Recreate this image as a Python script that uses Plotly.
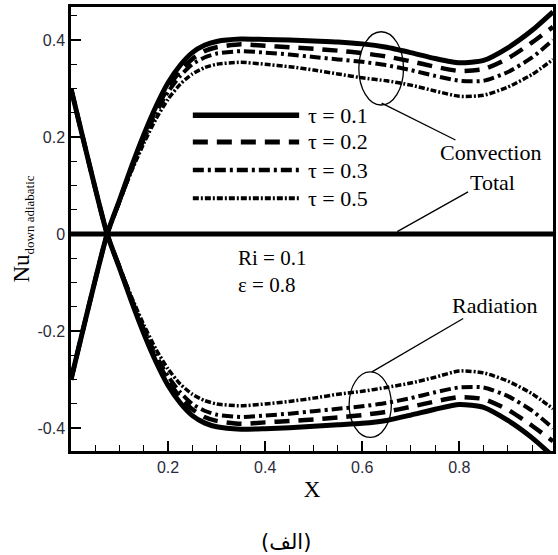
import plotly.graph_objects as go

# ---------------- data ----------------
x = [0.0, 0.0745, 0.1, 0.125, 0.15, 0.175, 0.2, 0.225, 0.25, 0.275, 0.3,
     0.35, 0.4, 0.45, 0.5, 0.55, 0.6, 0.65, 0.7, 0.75, 0.8, 0.85, 0.9, 0.95, 0.993]

conv_t01 = [-0.30, 0.0, 0.070, 0.140, 0.205, 0.263, 0.312, 0.348, 0.374, 0.389, 0.397,
            0.402, 0.401, 0.400, 0.398, 0.396, 0.392, 0.385, 0.374, 0.362, 0.353, 0.358, 0.384, 0.420, 0.458]
conv_t02 = [-0.30, 0.0, 0.069, 0.137, 0.200, 0.256, 0.302, 0.337, 0.361, 0.377, 0.385,
            0.391, 0.388, 0.385, 0.382, 0.378, 0.373, 0.366, 0.356, 0.345, 0.336, 0.340, 0.362, 0.395, 0.427]
conv_t03 = [-0.30, 0.0, 0.068, 0.134, 0.195, 0.249, 0.293, 0.326, 0.350, 0.364, 0.372,
            0.377, 0.374, 0.370, 0.365, 0.360, 0.355, 0.348, 0.338, 0.326, 0.316, 0.316, 0.334, 0.364, 0.400]
conv_t05 = [-0.30, 0.0, 0.067, 0.130, 0.187, 0.237, 0.278, 0.309, 0.330, 0.343, 0.350,
            0.354, 0.350, 0.345, 0.338, 0.330, 0.322, 0.316, 0.307, 0.295, 0.284, 0.286, 0.303, 0.329, 0.360]

rad_t01 = [0.30, 0.0, -0.070, -0.140, -0.205, -0.263, -0.312, -0.348, -0.374, -0.389, -0.397,
           -0.402, -0.401, -0.399, -0.396, -0.393, -0.390, -0.384, -0.373, -0.361, -0.351, -0.357, -0.384, -0.420, -0.458]
rad_t02 = [0.30, 0.0, -0.069, -0.137, -0.200, -0.256, -0.302, -0.337, -0.361, -0.377, -0.385,
           -0.391, -0.388, -0.385, -0.382, -0.378, -0.373, -0.366, -0.356, -0.345, -0.336, -0.340, -0.362, -0.395, -0.427]
rad_t03 = [0.30, 0.0, -0.068, -0.134, -0.195, -0.249, -0.293, -0.326, -0.350, -0.364, -0.372,
           -0.377, -0.374, -0.370, -0.365, -0.360, -0.355, -0.348, -0.338, -0.326, -0.316, -0.316, -0.334, -0.364, -0.400]
rad_t05 = [0.30, 0.0, -0.067, -0.130, -0.187, -0.237, -0.278, -0.309, -0.330, -0.343, -0.350,
           -0.354, -0.350, -0.345, -0.338, -0.330, -0.324, -0.316, -0.307, -0.295, -0.282, -0.286, -0.303, -0.329, -0.360]

total = [0.0] * len(x)

tau_labels = ["τ = 0.1", "τ = 0.2", "τ = 0.3", "τ = 0.5"]
x_tickvals = [0.2, 0.4, 0.6, 0.8]
x_ticktext = ["0.2", "0.4", "0.6", "0.8"]
y_tickvals = [-0.4, -0.2, 0.0, 0.2, 0.4]
y_ticktext = ["-0.4", "-0.2", "0", "0.2", "0.4"]
x_minor = [0.05, 0.1, 0.15, 0.25, 0.3, 0.35, 0.45, 0.5, 0.55, 0.65, 0.7, 0.75, 0.85, 0.9, 0.95]
y_minor = [-0.35, -0.3, -0.25, -0.15, -0.1, -0.05, 0.05, 0.1, 0.15, 0.25, 0.3, 0.35, 0.45]

# ---------------- styles ----------------
styles = [
    dict(dash="solid", width=5),
    dict(dash="15px,9px", width=4.5),
    dict(dash="11px,4px,3px,4px", width=4),
    dict(dash="6px,2px,2px,2px", width=3.5),
]
SERIF = "Liberation Serif"

fig = go.Figure()
conv = [conv_t01, conv_t02, conv_t03, conv_t05]
rad = [rad_t01, rad_t02, rad_t03, rad_t05]
for i in range(4):
    st = styles[i]
    fig.add_trace(go.Scatter(x=x, y=conv[i], mode="lines", name=tau_labels[i],
                             line=dict(color="black", width=st["width"], dash=st["dash"],
                                       shape="spline", smoothing=0.6),
                             showlegend=False))
    fig.add_trace(go.Scatter(x=x, y=rad[i], mode="lines", name=tau_labels[i],
                             line=dict(color="black", width=st["width"], dash=st["dash"],
                                       shape="spline", smoothing=0.6),
                             showlegend=False))
fig.add_trace(go.Scatter(x=x, y=total, mode="lines", name="Total",
                         line=dict(color="black", width=5), showlegend=False))

shapes = []
leg_y = [0.245, 0.190, 0.132, 0.074]
annotations = []
for i in range(4):
    st = styles[i]
    shapes.append(dict(type="line", xref="x", yref="y", x0=0.251, x1=0.470, y0=leg_y[i], y1=leg_y[i],
                       line=dict(color="black", width=st["width"] + 0.5, dash=st["dash"])))
    annotations.append(dict(x=0.487, y=leg_y[i], xref="x", yref="y", text=tau_labels[i],
                            showarrow=False, xanchor="left", yanchor="middle", borderpad=0,
                            font=dict(family=SERIF, size=22, color="black")))

shapes.append(dict(type="circle", xref="x", yref="y", x0=0.593, x1=0.685, y0=0.266, y1=0.417,
                   line=dict(color="black", width=1.3)))
shapes.append(dict(type="line", xref="x", yref="y", x0=0.640, y0=0.270, x1=0.792, y1=0.194,
                   line=dict(color="black", width=1.3)))
shapes.append(dict(type="line", xref="x", yref="y", x0=0.672, y0=0.005, x1=0.818, y1=0.087,
                   line=dict(color="black", width=1.3)))
shapes.append(dict(type="circle", xref="x", yref="y", x0=0.573, x1=0.660, y0=-0.419, y1=-0.284,
                   line=dict(color="black", width=1.3)))
shapes.append(dict(type="line", xref="x", yref="y", x0=0.620, y0=-0.284, x1=0.808, y1=-0.174,
                   line=dict(color="black", width=1.3)))

def txt(xv, yv, t, anchor="center", size=22):
    return dict(x=xv, y=yv, xref="x", yref="y", text=t, showarrow=False, xanchor=anchor,
                yanchor="middle", borderpad=0, font=dict(family=SERIF, size=size, color="black"))

annotations += [
    txt(0.865, 0.169, "Convection"),
    txt(0.869, 0.107, "Total"),
    txt(0.873, -0.148, "Radiation"),
    txt(0.341, -0.050, "Ri = 0.1", "left", 21),
    txt(0.341, -0.105, "ε = 0.8", "left", 21),
    dict(x=(287 - 71) / 485, y=(451 - 542) / 444, xref="paper", yref="paper", text="(الف)",
         showarrow=False, xanchor="center", yanchor="middle",
         font=dict(family="DejaVu Sans", size=21, color="black")),
]

axis_common = dict(showline=True, linewidth=2.5, linecolor="black", mirror=True,
                   ticks="inside", ticklen=10, tickwidth=1.5, tickcolor="black",
                   showgrid=False, zeroline=False,
                   tickfont=dict(family="Liberation Sans", size=16, color="#2a2a3a"))

fig.update_layout(
    width=558, height=555,
    margin=dict(l=71, r=2, t=7, b=104),
    paper_bgcolor="white", plot_bgcolor="white",
    shapes=shapes, annotations=annotations,
    xaxis=dict(range=[0, 0.993], tickmode="array", tickvals=x_tickvals, ticktext=x_ticktext,
               minor=dict(tickmode="array", tickvals=x_minor, ticks="inside", ticklen=6,
                          tickwidth=1.2, tickcolor="black"),
               title=dict(text="X", font=dict(family=SERIF, size=23, color="black"), standoff=6),
               **axis_common),
    yaxis=dict(range=[-0.447, 0.468], tickmode="array", tickvals=y_tickvals, ticktext=y_ticktext,
               minor=dict(tickmode="array", tickvals=y_minor, ticks="inside", ticklen=6,
                          tickwidth=1.2, tickcolor="black"),
               title=dict(text="Nu<sub><span style='font-size:13px'>down adiabatic</span></sub>",
                          font=dict(family=SERIF, size=23, color="black"), standoff=2),
               **axis_common),
)

fig.write_html("out.html")
